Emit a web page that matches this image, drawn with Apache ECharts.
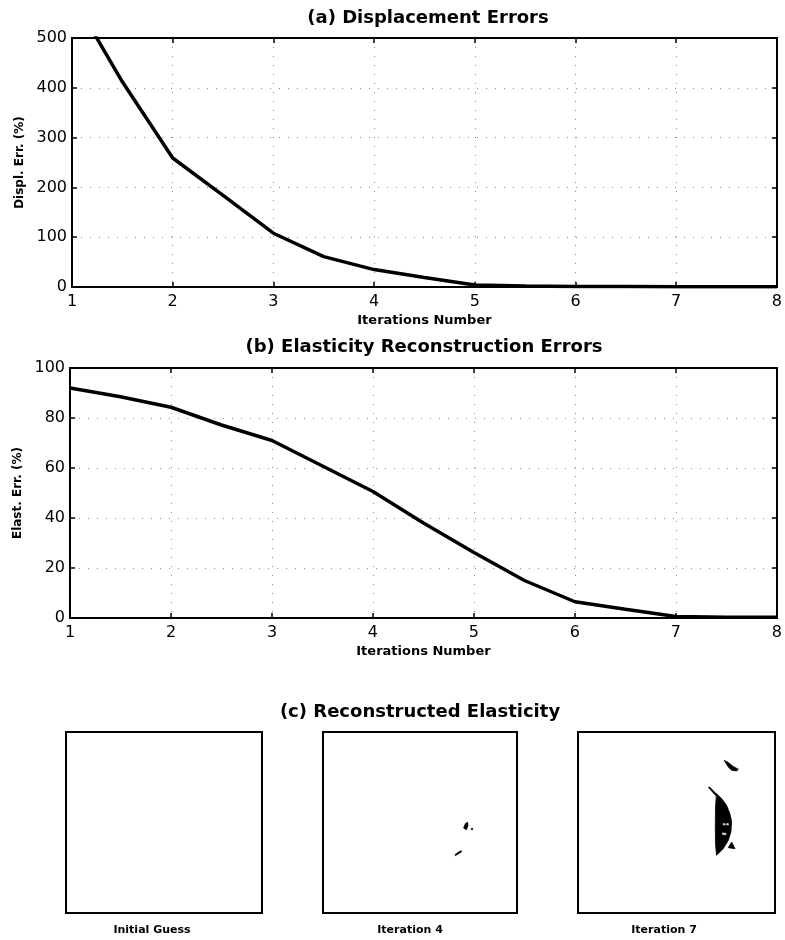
<!DOCTYPE html>
<html>
<head>
<meta charset="utf-8">
<script src="https://cdn.jsdelivr.net/npm/echarts@6/dist/echarts.min.js"></script>
<style>
	html, body { margin: 0; padding: 0; background: #fff; }
	#chart { width: 785px; height: 940px; }
</style>
</head>
<body>
<div id="chart"></div>
<script>
// iterations (half steps)
var iterations = [1, 1.5, 2, 2.5, 3, 3.5, 4, 4.5, 5, 5.5, 6, 6.5, 7, 7.5, 8];
var displErr = [585, 412, 259, 184, 108, 61, 35, 19, 4, 2, 1, 0.8, 0.6, 0.5, 0.5];
var elastErr = [92, 88.5, 84.3, 77.2, 71, 60.8, 50.6, 38, 26.2, 15, 6.5, 3.5, 0.6, 0.3, 0.3];
var xTicks = [1, 2, 3, 4, 5, 6, 7, 8];

var panelNames = ["Initial Guess", "Iteration 4", "Iteration 7"];

// black regions of the elasticity images, in image units (0..100, v from top)
var iter4Blobs = [
	[[72.5, 53.0], [73.4, 50.6], [74.6, 49.9], [74.7, 51.7], [73.9, 54.0]],
	[[68.0, 67.8], [69.5, 66.6], [71.2, 65.6], [71.4, 66.2], [69.6, 67.4], [68.3, 68.3]]
];
var iter4Dots = [[76.8, 53.6]];
var iter7Blobs = [
	[[70.3, 34.1], [72.9, 36.8], [75.4, 40.5], [77.1, 45.1], [78.0, 49.7], [77.6, 55.2],
	 [76.3, 59.9], [73.7, 64.5], [70.3, 68.1], [69.8, 61.7], [69.7, 52.5], [69.8, 41.4]],
	[[76.3, 63.9], [78.0, 60.8], [79.7, 64.5]],
	[[74.2, 15.7], [75.9, 16.6], [78.8, 19.0], [81.4, 20.6], [80.5, 21.5], [78.0, 21.2], [76.3, 19.3]],
	[[66.2, 30.6], [66.8, 30.4], [70.6, 34.6], [70.0, 35.2]]
];
var iter7Holes = [[74.2, 51.0], [75.9, 51.0], [73.7, 56.2], [74.7, 56.4]];

var chart = echarts.init(document.getElementById("chart"));

var labelFont = "DejaVu Sans";
var dotted = { color: '#888', width: 1, type: [1, 8] };

function pair(xs, ys) {
	var out = [];
	for (var i = 0; i < xs.length; i++) {
		out.push([xs[i], ys[i]]);
	}
	return out;
}

function mainX(grid, name) {
	return {
		type: 'value', gridIndex: grid, min: 1, max: 8, interval: 1,
		name: name, nameLocation: 'middle', nameGap: 27,
		nameTextStyle: { fontFamily: labelFont, fontWeight: 'bold', fontSize: 13, color: '#000' },
		axisLine: { show: true, onZero: false, lineStyle: { color: '#000', width: 2 } },
		axisTick: { show: true, inside: true, length: 5, lineStyle: { color: '#000', width: 1.5 } },
		axisLabel: { fontFamily: labelFont, fontSize: 16, color: '#000', margin: 7 },
		splitLine: { show: true, lineStyle: dotted },
	};
}

function topX(grid) {
	return {
		type: 'value', gridIndex: grid, min: 1, max: 8, interval: 1, position: 'top',
		axisLine: { show: true, onZero: false, lineStyle: { color: '#000', width: 2 } },
		axisTick: { show: true, inside: true, length: 5, lineStyle: { color: '#000', width: 1.5 } },
		axisLabel: { show: false },
		splitLine: { show: false },
	};
}

function mainY(grid, max, interval, name) {
	return {
		type: 'value', gridIndex: grid, min: 0, max: max, interval: interval,
		name: name, nameLocation: 'middle', nameGap: 41, nameRotate: 90,
		nameTextStyle: { fontFamily: labelFont, fontWeight: 'bold', fontSize: 12, color: '#000' },
		axisLine: { show: true, onZero: false, lineStyle: { color: '#000', width: 2 } },
		axisTick: { show: true, inside: true, length: 5, lineStyle: { color: '#000', width: 1.5 } },
		axisLabel: { fontFamily: labelFont, fontSize: 16, color: '#000', margin: 5 },
		splitLine: { show: true, lineStyle: dotted },
	};
}

function rightY(grid, max, interval) {
	return {
		type: 'value', gridIndex: grid, min: 0, max: max, interval: interval, position: 'right',
		axisLine: { show: true, onZero: false, lineStyle: { color: '#000', width: 2 } },
		axisTick: { show: true, inside: true, length: 5, lineStyle: { color: '#000', width: 1.5 } },
		axisLabel: { show: false },
		splitLine: { show: false },
	};
}

function imgAxis(grid, isY) {
	return {
		type: 'value', gridIndex: grid, min: 0, max: 100, inverse: !!isY,
		axisLine: { show: false },
		axisTick: { show: false },
		axisLabel: { show: false },
		splitLine: { show: false },
	};
}

function blobSeries(grid, blobs) {
	return {
		type: 'custom',
		xAxisIndex: grid, yAxisIndex: grid,
		silent: true,
		data: blobs.map(function(b) { return b[0]; }),
		renderItem: function(params, api) {
			var pts = blobs[params.dataIndex].map(function(p) { return api.coord(p); });
			return { type: 'polygon', shape: { points: pts }, style: { fill: '#000', stroke: '#000', lineWidth: 0.8 } };
		},
	};
}

function dotSeries(grid, dots, color) {
	return {
		type: 'scatter', xAxisIndex: grid, yAxisIndex: grid, silent: true,
		symbol: 'circle', symbolSize: 2.5, data: dots,
		itemStyle: { color: color },
	};
}

var imgLeft = [66, 323, 578];
var imgWidth = [196, 194, 197];
var labelX = [152, 410, 664];

var grids = [
	{ left: 72, top: 38, width: 708, height: 249, show: true, borderColor: '#000', borderWidth: 1.5 },
	{ left: 70, top: 368, width: 708, height: 250, show: true, borderColor: '#000', borderWidth: 1.5 },
];
for (var k = 0; k < 3; k++) {
	grids.push({ left: imgLeft[k], top: 732, width: imgWidth[k], height: 181, show: true, borderColor: '#000', borderWidth: 2 });
}

var graphics = [
	{ type: 'text', x: 428, y: 18, style: { text: '(a) Displacement Errors', x: 0, y: 0, align: 'center', verticalAlign: 'middle', font: 'bold 18px "DejaVu Sans"', fill: '#000' } },
	{ type: 'text', x: 424, y: 347, style: { text: '(b) Elasticity Reconstruction Errors', x: 0, y: 0, align: 'center', verticalAlign: 'middle', font: 'bold 18px "DejaVu Sans"', fill: '#000' } },
	{ type: 'text', x: 420, y: 712, style: { text: '(c) Reconstructed Elasticity', x: 0, y: 0, align: 'center', verticalAlign: 'middle', font: 'bold 18px "DejaVu Sans"', fill: '#000' } },
];
for (var k = 0; k < 3; k++) {
	graphics.push({ type: 'text', x: labelX[k], y: 930, style: { text: panelNames[k], x: 0, y: 0, align: 'center', verticalAlign: 'middle', font: 'bold 11px "DejaVu Sans"', fill: '#000' } });
}

var option = {
	backgroundColor: '#fff',
	animation: false,
	grid: grids,
	xAxis: [
		mainX(0, 'Iterations Number'),
		mainX(1, 'Iterations Number'),
		imgAxis(2), imgAxis(3), imgAxis(4),
		topX(0), topX(1),
	],
	yAxis: [
		mainY(0, 500, 100, 'Displ. Err. (%)'),
		mainY(1, 100, 20, 'Elast. Err. (%)'),
		imgAxis(2, true), imgAxis(3, true), imgAxis(4, true),
		rightY(0, 500, 100), rightY(1, 100, 20),
	],
	graphic: graphics,
	series: [
		{
			type: 'line', xAxisIndex: 0, yAxisIndex: 0, clip: true,
			data: pair(iterations, displErr), showSymbol: false,
			lineStyle: { color: '#000', width: 3.5 },
		},
		{
			type: 'line', xAxisIndex: 1, yAxisIndex: 1, clip: true,
			data: pair(iterations, elastErr), showSymbol: false,
			lineStyle: { color: '#000', width: 3.5 },
		},
		blobSeries(3, iter4Blobs),
		dotSeries(3, iter4Dots, '#000'),
		blobSeries(4, iter7Blobs),
		dotSeries(4, iter7Holes, '#fff'),
	],
};

option && chart.setOption(option);
</script>
</body>
</html>
